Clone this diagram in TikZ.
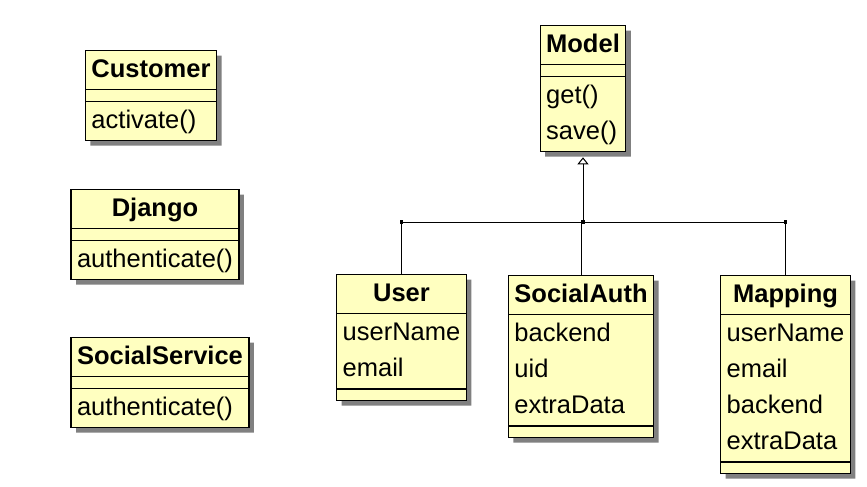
\documentclass[tikz,border=0pt]{standalone}
\usepackage{fontspec}
\setmainfont{Liberation Sans}
\usetikzlibrary{shapes.multipart, arrows.meta, shadows}
\definecolor{classyellow}{HTML}{FFFFC0}
\definecolor{shadowgray}{HTML}{808080}
\newcommand{\umlfont}{\fontsize{25.5}{36}\selectfont}
\newcommand{\members}[1]{\begin{tabular}{@{}l@{}}#1\end{tabular}}

\begin{document}
\begin{tikzpicture}[x=1pt, y=1pt,
    umlclass/.style={rectangle split, rectangle split parts=3, draw, fill=classyellow,
        line width=1.2pt, inner xsep=6pt, inner ysep=1pt, anchor=north,
        rectangle split part align={center,left,left},
        rectangle split empty part height=8.5pt, rectangle split empty part depth=0pt,
        font=\umlfont,
        drop shadow={shadow xshift=5pt, shadow yshift=-5pt, fill=shadowgray, opacity=1}},
    joint/.style={rectangle, fill, inner sep=0pt, minimum size=3.5pt}]
\useasboundingbox (0,0) rectangle (867,-487);

% services on the left
\node[umlclass] (customer) at (151,-50) {\textbf{Customer}\strut\nodepart{two}\nodepart{three}\members{activate()}};
\node[umlclass] (django) at (155,-189) {\textbf{Django}\strut\nodepart{two}\nodepart{three}\members{authenticate()}};
\node[umlclass] (socialservice) at (160,-337) {\textbf{SocialService}\strut\nodepart{two}\nodepart{three}\members{authenticate()}};

% model hierarchy
\node[umlclass] (model) at (583,-25) {\textbf{Model}\strut\nodepart{two}\nodepart{three}\members{get()\\save()}};
\node[umlclass] (user) at (401.5,-274) {\textbf{User}\strut\nodepart{two}\members{userName\\email}\nodepart{three}};
\node[umlclass] (socialauth) at (581,-275) {\textbf{SocialAuth}\strut\nodepart{two}\members{backend\\uid\\extraData}\nodepart{three}};
\node[umlclass] (mapping) at (785.5,-275) {\textbf{Mapping}\strut\nodepart{two}\members{userName\\email\\backend\\extraData}\nodepart{three}};

\coordinate (bus) at (583,-222);
\coordinate (bususer) at (user.north |- bus);
\coordinate (busmapping) at (mapping.north |- bus);

\draw[line width=1pt] (bususer) -- (busmapping);
\draw[line width=1pt] (bususer) -- (user.north);
\draw[line width=1pt] (bus) -- (bus -| socialauth.north) -- (socialauth.north);
\draw[line width=1pt] (busmapping) -- (mapping.north);
\draw[line width=1pt, -{Triangle[open, length=7pt, width=11pt]}, shorten >=5pt] (bus) -- (model.south);
\node[joint] at (bususer) {};
\node[joint] at (bus) {};
\node[joint] at (busmapping) {};
\end{tikzpicture}
\end{document}
